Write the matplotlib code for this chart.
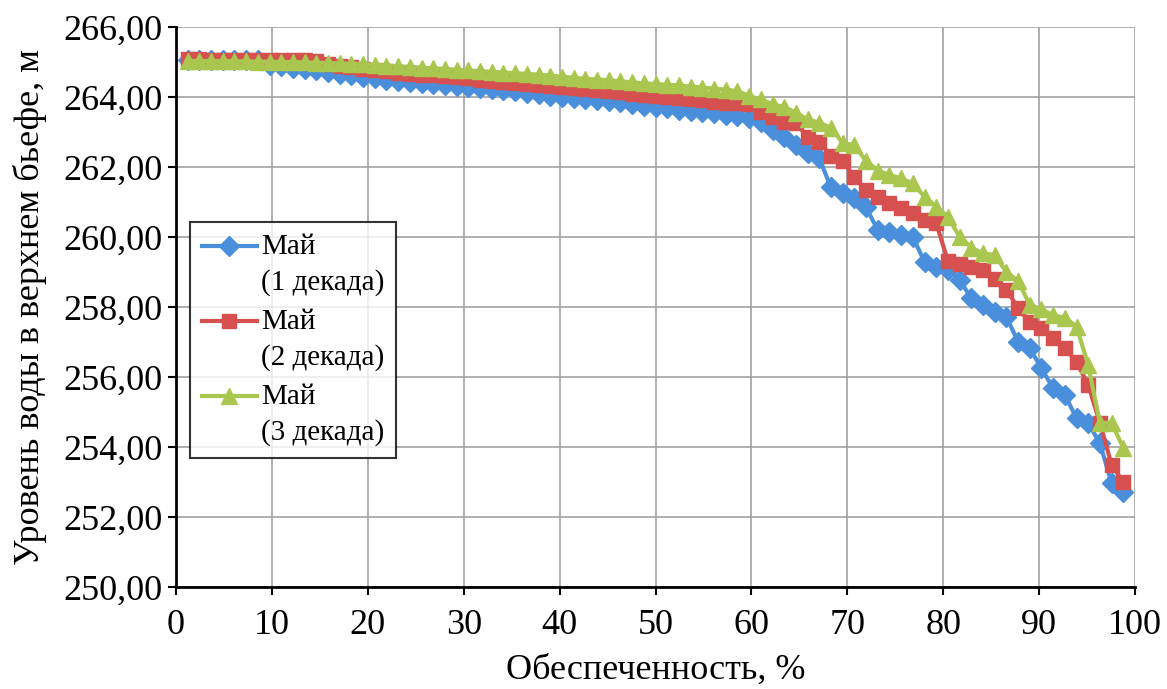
import matplotlib.pyplot as plt
from matplotlib.ticker import FixedLocator
from matplotlib.legend_handler import HandlerLine2D

# Обеспеченность, %
x = [1.22, 2.44, 3.66, 4.88, 6.10, 7.32, 8.54, 9.76, 10.98, 12.20,
     13.41, 14.63, 15.85, 17.07, 18.29, 19.51, 20.73, 21.95, 23.17, 24.39,
     25.61, 26.83, 28.05, 29.27, 30.49, 31.71, 32.93, 34.15, 35.37, 36.59,
     37.80, 39.02, 40.24, 41.46, 42.68, 43.90, 45.12, 46.34, 47.56, 48.78,
     50.00, 51.22, 52.44, 53.66, 54.88, 56.10, 57.32, 58.54, 59.76, 60.98,
     62.20, 63.41, 64.63, 65.85, 67.07, 68.29, 69.51, 70.73, 71.95, 73.17,
     74.39, 75.61, 76.83, 78.05, 79.27, 80.49, 81.71, 82.93, 84.15, 85.37,
     86.59, 87.80, 89.02, 90.24, 91.46, 92.68, 93.90, 95.12, 96.34, 97.56,
     98.78]

# Май, 1 декада
may_1 = [265.05, 265.05, 265.05, 265.05, 265.05, 265.05, 265.05, 264.92, 264.88, 264.84,
         264.80, 264.76, 264.71, 264.67, 264.62, 264.57, 264.53, 264.50, 264.47, 264.44,
         264.41, 264.38, 264.35, 264.32, 264.29, 264.26, 264.22, 264.19, 264.16, 264.12,
         264.08, 264.04, 264.00, 263.97, 263.94, 263.91, 263.88, 263.85, 263.80, 263.75,
         263.71, 263.68, 263.64, 263.60, 263.56, 263.53, 263.50, 263.47, 263.39, 263.30,
         263.06, 262.87, 262.63, 262.39, 262.25, 261.42, 261.25, 261.12, 260.85, 260.20,
         260.15, 260.06, 260.00, 259.29, 259.15, 259.06, 258.77, 258.25, 258.06, 257.87,
         257.72, 257.01, 256.82, 256.25, 255.68, 255.49, 254.82, 254.68, 254.11, 252.96,
         252.72]

# Май, 2 декада
may_2 = [265.08, 265.08, 265.07, 265.07, 265.07, 265.06, 265.06, 265.06, 265.05, 265.05,
         265.05, 265.04, 264.95, 264.90, 264.85, 264.80, 264.76, 264.73, 264.70, 264.67,
         264.64, 264.62, 264.59, 264.56, 264.53, 264.50, 264.47, 264.44, 264.41, 264.38,
         264.35, 264.31, 264.28, 264.25, 264.22, 264.19, 264.16, 264.13, 264.10, 264.07,
         264.04, 264.01, 263.98, 263.95, 263.91, 263.87, 263.84, 263.82, 263.80, 263.58,
         263.44, 263.30, 263.25, 262.87, 262.72, 262.32, 262.18, 261.72, 261.34, 261.15,
         260.96, 260.82, 260.68, 260.49, 260.39, 259.32, 259.24, 259.15, 259.06, 258.80,
         258.50, 257.97, 257.57, 257.40, 257.11, 256.83, 256.43, 255.77, 254.69, 253.49,
         253.00]

# Май, 3 декада
may_3 = [265.03, 265.03, 265.03, 265.03, 265.02, 265.02, 265.01, 265.01, 265.00, 265.00,
         264.99, 264.98, 264.97, 264.96, 264.95, 264.94, 264.92, 264.90, 264.88, 264.86,
         264.84, 264.82, 264.80, 264.78, 264.76, 264.74, 264.72, 264.70, 264.68, 264.66,
         264.64, 264.61, 264.58, 264.55, 264.52, 264.50, 264.48, 264.45, 264.42, 264.39,
         264.37, 264.35, 264.33, 264.30, 264.27, 264.24, 264.21, 264.17, 264.03, 263.93,
         263.79, 263.72, 263.55, 263.36, 263.27, 263.12, 262.69, 262.62, 262.17, 261.90,
         261.77, 261.68, 261.53, 261.15, 260.87, 260.58, 260.00, 259.70, 259.53, 259.49,
         259.00, 258.75, 258.06, 257.93, 257.77, 257.69, 257.44, 256.34, 254.69, 254.69,
         253.97]

labels = ["Май\n(1 декада)", "Май\n(2 декада)", "Май\n(3 декада)"]

x_ticks = [0, 10, 20, 30, 40, 50, 60, 70, 80, 90, 100]
y_ticks = [250, 252, 254, 256, 258, 260, 262, 264, 266]
y_tick_labels = ["250,00", "252,00", "254,00", "256,00", "258,00",
                 "260,00", "262,00", "264,00", "266,00"]


# маркер легенды на уровне первой строки подписи
class UpHandler(HandlerLine2D):
    def create_artists(self, legend, orig_handle, xdescent, ydescent,
                       width, height, fontsize, trans):
        return super().create_artists(legend, orig_handle, xdescent,
                                      ydescent - 1.3 * fontsize, width, height,
                                      fontsize, trans)


plt.rcParams['font.family'] = ['Liberation Serif', 'DejaVu Serif']

fig = plt.figure(figsize=(11.67, 6.89), dpi=100)
ax = fig.add_axes([0.1508, 0.148, 0.8218, 0.8128])

l1, = ax.plot(x, may_1, color='#4a8fdb', lw=3, marker='D', ms=10, label=labels[0], zorder=3)
l2, = ax.plot(x, may_2, color='#d5504f', lw=3, marker='s', ms=10.5, label=labels[1], zorder=4)
l3, = ax.plot(x, may_3, color='#a9c64f', lw=3, marker='^', ms=11, label=labels[2], zorder=5)

ax.set_xlim(0, 100)
ax.set_ylim(250, 266)
ax.xaxis.set_major_locator(FixedLocator(x_ticks))
ax.set_yticks(y_ticks)
ax.set_yticklabels(y_tick_labels)
ax.tick_params(axis='both', labelsize=26, direction='out', length=6, width=1.5)
ax.tick_params(axis='x', pad=10)

ax.grid(True, color='#9a9a9a', lw=1.1, zorder=0)
ax.spines['top'].set_visible(False)
ax.spines['right'].set_visible(False)
ax.spines['left'].set_linewidth(2)
ax.spines['bottom'].set_linewidth(2)

ax.set_xlabel("Обеспеченность, %", fontsize=26, labelpad=8)
ax.set_ylabel("Уровень воды в верхнем бьефе, м", fontsize=26, labelpad=12)

leg = ax.legend(loc='upper left', bbox_to_anchor=(0.0146, 0.652), borderaxespad=0,
                fontsize=21, frameon=True, fancybox=False, handlelength=1.9,
                handletextpad=0.15, labelspacing=0.45, borderpad=0.4,
                handler_map={l1: UpHandler(), l2: UpHandler(), l3: UpHandler()})
for t in leg.get_texts():
    t.set_linespacing(1.45)
leg.get_frame().set_edgecolor('black')
leg.get_frame().set_linewidth(1.5)

plt.savefig("out.png", dpi=100)
